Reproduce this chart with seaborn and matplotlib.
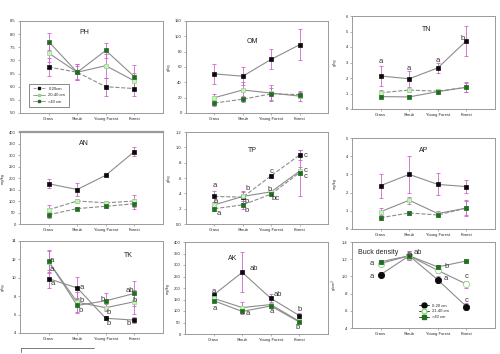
import numpy as np
import pandas as pd
import matplotlib
matplotlib.use("Agg")
import matplotlib.pyplot as plt
from matplotlib.lines import Line2D
import seaborn as sns

sns.set_style("white")
plt.rcParams["font.family"] = ["Liberation Sans", "DejaVu Sans"]

categories = ["Grass", "Shrub", "Young Forest", "Forest"]
depths = ["0-20cm", "20-40 cm", ">40 cm"]
bd_depths = ["0-20 cm", "21-40 cm", ">40 cm"]

# ---- PH ----
ph_d1 = [6.75, 6.55, 6.00, 5.93]
ph_d2 = [7.28, 6.55, 6.80, 6.22]
ph_d3 = [7.72, 6.55, 7.38, 6.38]
ph_e1 = [0.35, 0.30, 0.35, 0.30]
ph_e2 = [0.35, 0.25, 0.45, 0.30]
ph_e3 = [0.32, 0.30, 0.28, 0.45]

# ---- OM ----
om_d1 = [51, 48, 70, 89]
om_d2 = [20, 30, 26, 22]
om_d3 = [13, 18, 25, 24]
om_e1 = [13, 12, 13, 20]
om_e2 = [5, 10, 10, 6]
om_e3 = [4, 4, 8, 5]

# ---- TN ----
tn_d1 = [2.13, 1.95, 2.65, 4.40]
tn_d2 = [1.05, 1.22, 1.15, 1.40]
tn_d3 = [0.80, 0.78, 1.12, 1.40]
tn_e1 = [0.62, 0.50, 0.35, 0.98]
tn_e2 = [0.15, 0.10, 0.15, 0.32]
tn_e3 = [0.10, 0.10, 0.10, 0.30]

# ---- AN ----
an_d1 = [175, 150, 212, 315]
an_d2 = [62, 100, 92, 100]
an_d3 = [40, 67, 77, 88]
an_e1 = [20, 28, 0, 20]
an_e2 = [20, 8, 8, 25]
an_e3 = [12, 6, 8, 22]

# ---- TP ----
tp_d1 = [0.36, 0.35, 0.63, 0.90]
tp_d2 = [0.25, 0.36, 0.42, 0.69]
tp_d3 = [0.20, 0.25, 0.39, 0.67]
tp_e1 = [0.07, 0.08, 0.02, 0.07]
tp_e2 = [0.04, 0.06, 0.02, 0.05]
tp_e3 = [0.03, 0.05, 0.02, 0.30]
tp_l1 = ["a", "b", "c", "c"]
tp_l2 = ["a", "b", "b", "c"]
tp_l3 = ["a", "b", "bc", "c"]

# ---- AP ----
ap_d1 = [2.38, 3.00, 2.45, 2.33]
ap_d2 = [0.95, 1.58, 0.85, 1.15]
ap_d3 = [0.62, 0.88, 0.77, 1.15]
ap_e1 = [0.65, 1.02, 0.60, 0.35]
ap_e2 = [0.18, 0.20, 0.15, 0.40]
ap_e3 = [0.10, 0.12, 0.10, 0.42]

# ---- TK ----
tk_d1 = [9.9, 8.9, 5.6, 5.4]
tk_d2 = [11.75, 7.35, 6.75, 7.4]
tk_d3 = [11.8, 7.0, 7.5, 8.3]
tk_e1 = [1.0, 1.2, 0.2, 0.3]
tk_e2 = [1.2, 1.1, 0.4, 1.3]
tk_e3 = [1.2, 0.8, 0.8, 1.4]
tk_l1 = ["a", "a", "b", "b"]
tk_l2 = ["a", "b", "b", "b"]
tk_l3 = ["a", "b", "b", "ab"]

# ---- AK ----
ak_d1 = [170, 268, 155, 80]
ak_d2 = [155, 115, 128, 55]
ak_d3 = [145, 98, 122, 52]
ak_e1 = [12, 87, 20, 12]
ak_e2 = [10, 25, 12, 8]
ak_e3 = [8, 12, 10, 6]
ak_l1 = ["a", "ab", "ab", "b"]
ak_l3 = ["a", "a", "a", "b"]

# ---- Bulk density ----
bd_d1 = [1.02, 1.24, 0.96, 0.65]
bd_d2 = [1.15, 1.24, 1.07, 0.91]
bd_d3 = [1.17, 1.24, 1.11, 1.18]
bd_e1 = [0.03, 0.05, 0.04, 0.04]
bd_e2 = [0.03, 0.05, 0.03, 0.04]
bd_e3 = [0.02, 0.04, 0.02, 0.01]
bd_l1 = ["a", "b", "a", "c"]
bd_l2 = ["a", "ab", "b", "c"]

W, H = 500, 354
fig = plt.figure(figsize=(W / 100, H / 100), dpi=100)

LINE_C = "#8c8c8c"
ERR_C = "#cc66cc"
MARK_C = ["#0a0a0a", "#8fd67f", "#1f6f1f"]
MARK_FC = ["#0a0a0a", "#c8f0c0", "#1f6f1f"]


def px_axes(l, t, r, b):
    return fig.add_axes([l / W, 1 - b / H, (r - l) / W, (b - t) / H])


def panel(ax, series, errs, ylim, yticks, yticklabels, title, tpos, ylabel,
          ylab_x, styles=("-", "-", "--"), marker="s", ms=2.6, title_ha="center"):
    x = np.arange(len(categories))
    for i, (vals, err) in enumerate(zip(series, errs)):
        df = pd.DataFrame({"pos": x, "value": vals})
        ax.errorbar(x, vals, yerr=err, fmt="none", ecolor=ERR_C, elinewidth=0.6,
                    capsize=1.6, capthick=0.6, zorder=1)
        sns.lineplot(data=df, x="pos", y="value", ax=ax, color=LINE_C, lw=0.8,
                     linestyle=styles[i], zorder=2, legend=False)
        sns.scatterplot(data=df, x="pos", y="value", ax=ax, marker=marker,
                        s=ms ** 2, color=MARK_FC[i], edgecolor=MARK_C[i],
                        linewidth=0.5, zorder=3, legend=False)
    ax.set_xlim(-1, 4)
    ax.set_ylim(*ylim)
    ax.set_yticks(yticks)
    ax.set_yticklabels(yticklabels)
    ax.set_xticks(x)
    ax.set_xticklabels(categories)
    ax.set_xlabel("")
    ax.set_ylabel("")
    ax.tick_params(labelsize=3, length=1.5, width=0.4, pad=1.5, color="#777777",
                   bottom=True, left=True)
    for s in ax.spines.values():
        s.set_color("#9a9a9a")
        s.set_linewidth(0.7)
    ax.text(tpos[0], tpos[1], title, transform=ax.transAxes, fontsize=5,
            ha=title_ha, va="center", color="#222222")
    ax.text(ylab_x, 0.5, ylabel, transform=ax.transAxes, rotation=90,
            fontsize=3, ha="center", va="center", color="#333333")


def letters(ax, labels, vals, dx, dy):
    for i, (lab, v) in enumerate(zip(labels, vals)):
        ax.text(i + dx[i], v + dy[i], lab, fontsize=5.5, ha="center", va="center",
                color="#333333")


# PH
ax1 = px_axes(20, 21, 163, 113)
panel(ax1, [ph_d1, ph_d2, ph_d3], [ph_e1, ph_e2, ph_e3], (5.0, 8.5),
      np.arange(5.0, 8.51, 0.5), [f"{v:.1f}" for v in np.arange(5.0, 8.51, 0.5)],
      "PH", (0.45, 0.88), "", -0.12, styles=("--", "-", "-"))
handles = [Line2D([0], [0], color=LINE_C, lw=0.6, marker="s", ms=2,
                  markerfacecolor=MARK_FC[i], markeredgecolor=MARK_C[i],
                  linestyle="--" if i == 0 else "-") for i in range(3)]
leg = ax1.legend(handles, depths, loc="lower left", bbox_to_anchor=(0.05, 0.04),
                 fontsize=3, frameon=True, fancybox=False, borderpad=0.8,
                 handlelength=3, labelspacing=0.6, edgecolor="#333333")
leg.get_frame().set_linewidth(0.5)

# OM
ax2 = px_axes(186, 21, 328, 113)
panel(ax2, [om_d1, om_d2, om_d3], [om_e1, om_e2, om_e3], (0, 120),
      np.arange(0, 121, 20), [str(v) for v in range(0, 121, 20)],
      "OM", (0.47, 0.78), "g/kg", -0.12, styles=("-", "-", "--"))

# TN
ax3 = px_axes(352, 16, 495, 109)
panel(ax3, [tn_d1, tn_d2, tn_d3], [tn_e1, tn_e2, tn_e3], (0, 6),
      np.arange(0, 7, 1), [str(v) for v in range(0, 7)],
      "TN", (0.52, 0.86), "g/kg", -0.12, styles=("-", "--", "-"))
letters(ax3, ["a", "a", "a", "b"], tn_d1, [0, 0, 0, -0.12], [0.95, 0.65, 0.5, 0.15])

# AN
ax4 = px_axes(20, 132, 163, 224)
panel(ax4, [an_d1, an_d2, an_d3], [an_e1, an_e2, an_e3], (0, 400),
      np.arange(0, 401, 50), [str(v) for v in range(0, 401, 50)],
      "AN", (0.45, 0.87), "mg/kg", -0.12, styles=("-", "--", "--"))
ax4.spines["top"].set_linewidth(1.6)

# TP
ax5 = px_axes(186, 132, 328, 224)
panel(ax5, [tp_d1, tp_d2, tp_d3], [tp_e1, tp_e2, tp_e3], (0, 1.2),
      np.arange(0, 1.21, 0.2), ["0.0", ".2", ".4", ".6", ".8", "1.0", "1.2"],
      "TP", (0.47, 0.80), "g/kg", -0.12, styles=("--", "-", "--"))
letters(ax5, tp_l1, tp_d1, [0, 0.18, 0, 0.22], [0.14, 0.11, 0.05, -0.01])
letters(ax5, tp_l2, tp_d2, [0.05, 0.15, -0.05, 0.22], [0.04, -0.06, 0.03, 0.01])
letters(ax5, tp_l3, tp_d3, [0.15, 0.15, 0.15, 0.22], [-0.06, -0.07, -0.06, -0.05])

# AP
ax6 = px_axes(352, 138, 495, 229)
panel(ax6, [ap_d1, ap_d2, ap_d3], [ap_e1, ap_e2, ap_e3], (0, 5),
      np.arange(0, 6, 1), [str(v) for v in range(0, 6)],
      "AP", (0.5, 0.86), "mg/kg", -0.12, styles=("-", "-", "--"))

# TK
ax7 = px_axes(20, 241, 163, 333)
panel(ax7, [tk_d1, tk_d2, tk_d3], [tk_e1, tk_e2, tk_e3], (4, 14),
      np.arange(4, 15, 2), [str(v) for v in range(4, 15, 2)],
      "TK", (0.76, 0.84), "g/kg", -0.12, styles=("-", "-", "-"))
letters(ax7, tk_l1, tk_d1, [0.15, 0.15, 0.1, -0.2], [-0.5, 0.0, -0.6, -0.4])
letters(ax7, tk_l2, tk_d2, [0.12, 0.15, 0.1, 0.0], [-0.8, 0.2, -0.5, 0.1])
letters(ax7, tk_l3, tk_d3, [0.12, 0.12, -0.12, -0.15], [0.05, -0.5, 0.1, 0.3])
fig.add_artist(Line2D([21 / W, 94 / W], [1 - 348 / H, 1 - 348 / H], color="#666666", lw=0.6))
fig.add_artist(Line2D([21 / W, 21 / W], [1 - 348 / H, 1 - 352 / H], color="#666666", lw=0.6))

# AK
ax8 = px_axes(185, 242, 328, 334)
panel(ax8, [ak_d1, ak_d2, ak_d3], [ak_e1, ak_e2, ak_e3], (0, 400),
      np.arange(0, 401, 50), [str(v) for v in range(0, 401, 50)],
      "AK", (0.33, 0.82), "mg/kg", -0.12, styles=("-", "-", "-"))
letters(ax8, ak_l1, ak_d1, [0, 0.4, 0.25, 0], [15, 17, 15, 25])
letters(ax8, ak_l3, ak_d3, [0.05, 0.2, 0.05, -0.05], [-35, -10, -25, -25])

# Bulk density
ax9 = px_axes(352, 242, 495, 328)
bd_series = [bd_d1, bd_d2, bd_d3]
bd_errs = [bd_e1, bd_e2, bd_e3]
x = np.arange(len(categories))
bd_markers = ["o", "o", "s"]
bd_sizes = [4.5, 4.5, 3.0]
bd_styles = ["-", "-", "-"]
for i in range(3):
    df = pd.DataFrame({"pos": x, "value": bd_series[i]})
    ax9.errorbar(x, bd_series[i], yerr=bd_errs[i], fmt="none", ecolor=ERR_C,
                 elinewidth=0.6, capsize=1.6, capthick=0.6, zorder=1)
    sns.lineplot(data=df, x="pos", y="value", ax=ax9, color=LINE_C, lw=0.8,
                 linestyle=bd_styles[i], zorder=2, legend=False)
    sns.scatterplot(data=df, x="pos", y="value", ax=ax9, marker=bd_markers[i],
                    s=bd_sizes[i] ** 2,
                    color=("white" if i == 1 else MARK_FC[i]),
                    edgecolor=MARK_C[i], linewidth=0.6, zorder=3, legend=False)
ax9.set_xlim(-1, 4)
ax9.set_ylim(0.4, 1.4)
ax9.set_yticks(np.arange(0.4, 1.41, 0.2))
ax9.set_yticklabels([".4", ".6", ".8", "1.0", "1.2", "1.4"])
ax9.set_xticks(x)
ax9.set_xticklabels(categories)
ax9.set_xlabel("")
ax9.set_ylabel("")
ax9.tick_params(labelsize=3, length=1.5, width=0.4, pad=1.5, color="#777777",
                bottom=True, left=True)
for s in ax9.spines.values():
    s.set_color("#9a9a9a")
    s.set_linewidth(0.7)
ax9.text(0.04, 0.88, "Buck density", transform=ax9.transAxes, fontsize=5,
         ha="left", va="center", color="#222222")
ax9.text(-0.12, 0.5, "g/cm$^3$", transform=ax9.transAxes, rotation=90,
         fontsize=3, ha="center", va="center", color="#333333")
letters(ax9, bd_l1, bd_d1, [-0.3, 0, 0.28, 0], [-0.02, 0, 0.02, 0.07])
letters(ax9, bd_l2, bd_d2, [-0.3, 0.3, 0.3, 0], [0.0, 0.04, 0.05, 0.09])
bd_handles = [Line2D([0], [0], color="#222222", lw=0.6, marker=bd_markers[i],
                     ms=bd_sizes[i] * 0.8,
                     markerfacecolor=("white" if i == 1 else MARK_FC[i]),
                     markeredgecolor=MARK_C[i]) for i in range(3)]
ax9.legend(bd_handles, bd_depths, loc="lower left", bbox_to_anchor=(0.44, 0.06),
           fontsize=3, frameon=False, handlelength=2.5, labelspacing=0.4)

fig.savefig("out.png", dpi=100)
